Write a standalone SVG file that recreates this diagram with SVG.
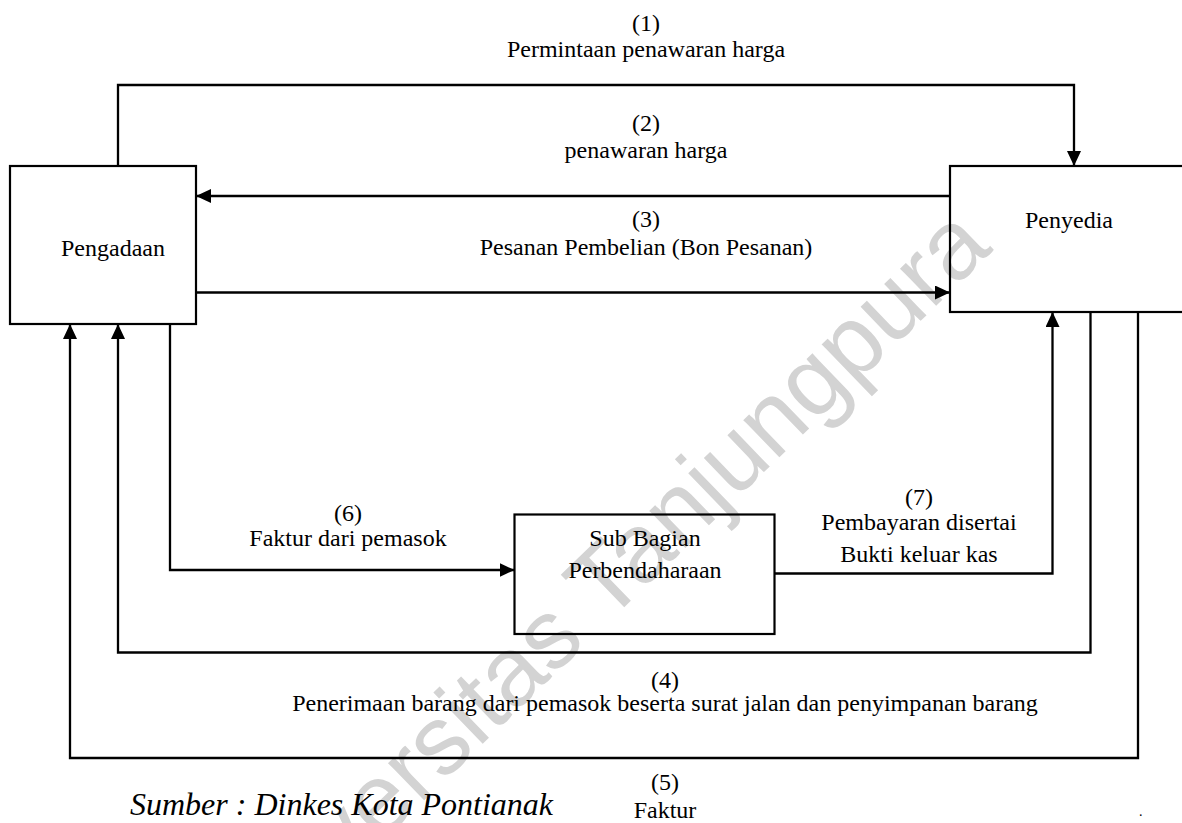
<svg xmlns="http://www.w3.org/2000/svg" width="1182" height="823" viewBox="0 0 1182 823">
<style>
.t{font-family:"Liberation Serif","Times New Roman",serif;font-size:24px;fill:#000;text-anchor:middle}
.box{fill:none;stroke:#000;stroke-width:2.2}
.c{fill:none;stroke:#000;stroke-width:2.3}
.wm{font-family:"Liberation Sans",Arial,sans-serif;font-size:98px;fill:#d3d3d3;text-anchor:end}
</style>
<defs>
<marker id="ah" markerUnits="userSpaceOnUse" markerWidth="16" markerHeight="16" refX="15" refY="7" orient="auto">
<path d="M0,0 L15,7 L0,14 z" fill="#000"/>
</marker>
</defs>
<rect width="1182" height="823" fill="#fff"/>
<text class="wm" transform="translate(994,250) rotate(-44)">Universitas Tanjungpura</text>
<g id="connectors">
<path class="c" d="M118,166 V85 H1074 V166" marker-end="url(#ah)"/>
<path class="c" d="M950,196 H196" marker-end="url(#ah)"/>
<path class="c" d="M196,292.5 H950" marker-end="url(#ah)"/>
<path class="c" d="M170,324 V570 H514.5" marker-end="url(#ah)"/>
<path class="c" d="M774.5,573.5 H1052.5 V312" marker-end="url(#ah)"/>
<path class="c" d="M1090.5,312 V652.5 H118 V324" marker-end="url(#ah)"/>
<path class="c" d="M1138,312 V758 H70 V324" marker-end="url(#ah)"/>
<text class="t" x="646" y="31">(1)</text>
<text class="t" x="646" y="57">Permintaan penawaran harga</text>
<text class="t" x="646" y="131">(2)</text>
<text class="t" x="646" y="158">penawaran harga</text>
<text class="t" x="646" y="227">(3)</text>
<text class="t" x="646" y="255">Pesanan Pembelian (Bon Pesanan)</text>
<text class="t" x="348" y="521">(6)</text>
<text class="t" x="348" y="546">Faktur dari pemasok</text>
<text class="t" x="919" y="505">(7)</text>
<text class="t" x="919" y="530">Pembayaran disertai</text>
<text class="t" x="919" y="562">Bukti keluar kas</text>
<text class="t" x="665" y="688">(4)</text>
<text class="t" x="665" y="711">Penerimaan barang dari pemasok beserta surat jalan dan penyimpanan barang</text>
<text class="t" x="665" y="790">(5)</text>
<text class="t" x="665" y="818">Faktur</text>
</g>
<g id="pengadaan">
<rect class="box" x="10" y="166" width="186" height="158"/>
<text class="t" x="113" y="256">Pengadaan</text>
</g>
<g id="penyedia">
<rect class="box" x="950" y="166" width="250" height="146"/>
<text class="t" x="1069" y="228">Penyedia</text>
</g>
<g id="subbagian">
<rect class="box" x="514.5" y="514.5" width="260" height="119.5"/>
<text class="t" x="645" y="546">Sub Bagian</text>
<text class="t" x="645" y="578">Perbendaharaan</text>
</g>
<text x="130" y="815" style="font-family:'Liberation Serif','Times New Roman',serif;font-size:32px;font-style:italic">Sumber : Dinkes Kota Pontianak</text>
<text x="1139" y="816" style="font-family:'Liberation Serif','Times New Roman',serif;font-size:14px">.</text>
</svg>
